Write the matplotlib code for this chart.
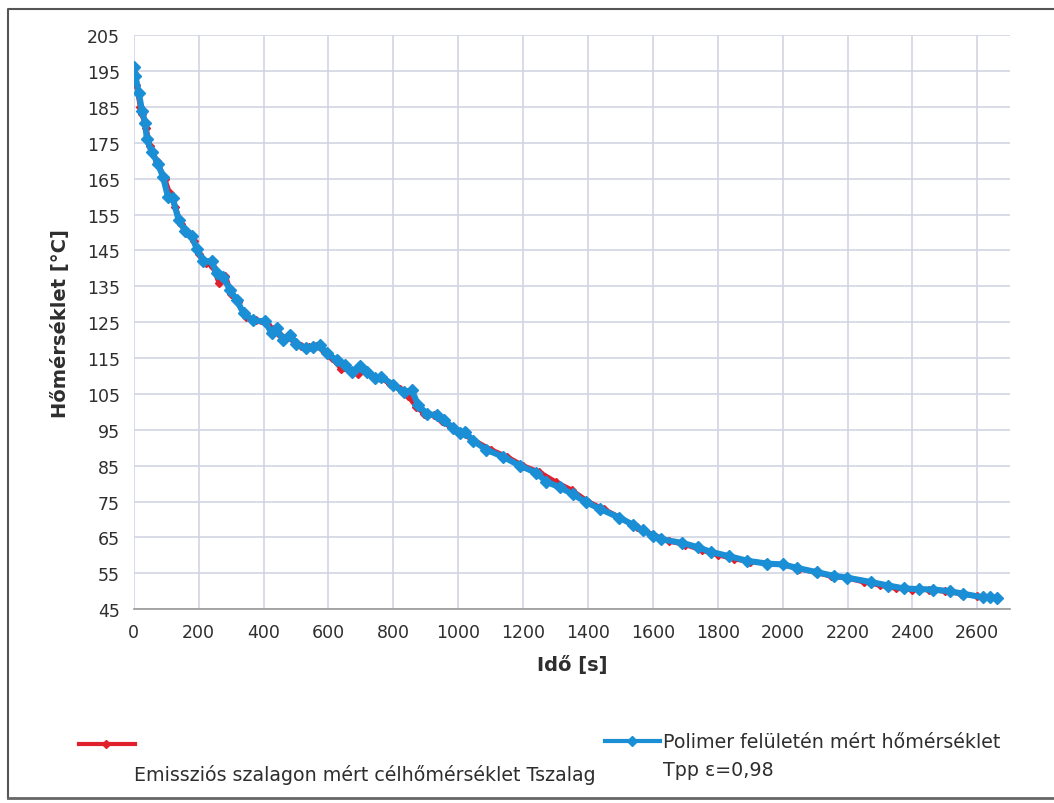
import matplotlib
matplotlib.use("Agg")
import matplotlib.pyplot as plt
from matplotlib.lines import Line2D

plt.rcParams['font.family'] = ['DejaVu Sans']

# idő [s] / hőmérséklet [°C] - Tpp (kék)
t_pp = [0, 5, 15, 25, 35, 40, 55, 75, 90, 105, 120, 138, 158, 178, 194, 214,
        240, 255, 276, 296, 317, 338, 368, 404, 425, 440, 460, 481, 500, 530,
        552, 573, 594, 625, 650, 672, 698, 720, 742, 762, 800, 832, 857, 877,
        903, 933, 955, 985, 1006, 1020, 1046, 1086, 1138, 1190, 1241, 1272,
        1313, 1354, 1395, 1436, 1497, 1540, 1568, 1600, 1625, 1690, 1738, 1778,
        1834, 1891, 1953, 2000, 2045, 2107, 2157, 2199, 2271, 2326, 2373, 2420,
        2465, 2517, 2557, 2618, 2640, 2660]
T_pp = [196, 193.5, 189, 184, 180.5, 176, 172.5, 169, 165.5, 160, 159.5, 153.5,
        150.5, 149, 145.5, 142, 142, 138.6, 137.6, 134, 131.2, 127.5, 125.5,
        125.2, 122, 123.3, 120, 121.5, 119, 117.7, 118.1, 118.6, 116.3, 114.5,
        113, 111, 112.7, 111, 109.5, 109.8, 107.5, 105.5, 106, 101.8, 99.5, 99,
        97.7, 95.5, 94, 94.5, 92, 89.5, 87.5, 85, 83, 80.5, 79, 77, 74.8, 73,
        70.5, 68.5, 67, 65.5, 64.5, 63.5, 62.3, 61, 59.8, 58.5, 57.7, 57.5,
        56.5, 55.3, 54.3, 53.8, 52.6, 51.6, 50.8, 50.6, 50.5, 50, 49.3, 48.3,
        48.5, 48]

# Tszalag (piros)
t_sz = [0, 8, 20, 25, 38, 50, 70, 95, 110, 128, 145, 165, 185, 200, 222, 245,
        262, 282, 300, 320, 345, 375, 410, 432, 450, 470, 490, 515, 540, 560,
        585, 610, 640, 665, 690, 712, 735, 760, 790, 820, 845, 870, 895, 925,
        950, 980, 1010, 1050, 1100, 1150, 1200, 1250, 1300, 1350, 1400, 1450,
        1500, 1550, 1600, 1650, 1700, 1750, 1800, 1850, 1900, 1950, 2000, 2050,
        2100, 2150, 2200, 2250, 2300, 2350, 2400, 2450, 2500, 2550, 2600, 2660]
T_sz = [194.5, 191, 185, 183, 179, 174, 170, 165, 161, 157, 152.5, 150, 147.5,
        144, 141.5, 140.5, 136, 138, 133, 130.5, 126.5, 125.5, 124.5, 123,
        121.5, 120.5, 120, 118.5, 118, 118.5, 117, 115, 112, 111.5, 110.5,
        111.5, 110, 109.5, 107.8, 106.5, 104.5, 101.5, 99.5, 99, 97.5, 95.5,
        94, 92, 89.5, 87.5, 85, 83.2, 80.5, 78.2, 75, 72.8, 70.5, 67.8, 65.8,
        64, 63, 61.5, 60.2, 59, 58.3, 57.8, 57.4, 56.3, 55.3, 54.2, 53.7, 52.6,
        51.7, 50.8, 50.5, 50.5, 50, 49.3, 48.6, 48]

x_ticks = list(range(0, 2700, 200))
y_ticks = list(range(45, 215, 10))

red = '#e0202a'
blue = '#1b8fd6'
txt = '#2e2e2e'

fig = plt.figure(figsize=(10.54, 8.04), dpi=100)
ax = fig.add_axes([0.127, 0.241, 0.831, 0.714])

ax.plot(t_sz, T_sz, color=red, lw=3.6, marker='D', ms=4, zorder=3)
ax.plot(t_pp, T_pp, color=blue, lw=4.4, marker='D', ms=6.5, zorder=4)

ax.set_xlim(0, 2700)
ax.set_ylim(45, 205)
ax.set_xticks(x_ticks)
ax.set_yticks(y_ticks)
ax.tick_params(length=0, labelsize=12.5, labelcolor=txt, pad=10)
ax.grid(True, color='#d2d4e2', lw=1.2)
ax.set_axisbelow(True)
for s in ['top', 'right', 'left']:
    ax.spines[s].set_visible(False)
ax.spines['bottom'].set_color('#9a9a9a')
ax.spines['bottom'].set_linewidth(1.2)

ax.set_xlabel('Idő [s]', fontsize=14, fontweight='bold', color=txt, labelpad=10)
ax.set_ylabel('Hőmérséklet [°C]', fontsize=14, fontweight='bold', color=txt,
              labelpad=12)

# jelmagyarázat (Excel-szerű elrendezés)
fig.add_artist(Line2D([0.075, 0.101, 0.128], [0.073, 0.073, 0.073],
                      transform=fig.transFigure, color=red, lw=3, marker='D',
                      ms=4, markevery=[1]))
fig.text(0.127, 0.036, 'Emissziós szalagon mért célhőmérséklet Tszalag',
         fontsize=13.7, color=txt, va='center')
fig.add_artist(Line2D([0.574, 0.600, 0.626], [0.077, 0.077, 0.077],
                      transform=fig.transFigure, color=blue, lw=3, marker='D',
                      ms=5, markevery=[1]))
fig.text(0.629, 0.077, 'Polimer felületén mért hőmérséklet',
         fontsize=13.7, color=txt, va='center')
fig.text(0.629, 0.042, 'Tpp ε=0,98',
         fontsize=13.7, color=txt, va='center')

# külső keret
fig.add_artist(Line2D([0.008, 0.008, 1.0], [0.006, 0.988, 0.988],
                      transform=fig.transFigure, color='#555555', lw=1.5))
fig.add_artist(Line2D([0.008, 1.0], [0.006, 0.006],
                      transform=fig.transFigure, color='#666666', lw=2))

fig.savefig('out.png', dpi=100)
